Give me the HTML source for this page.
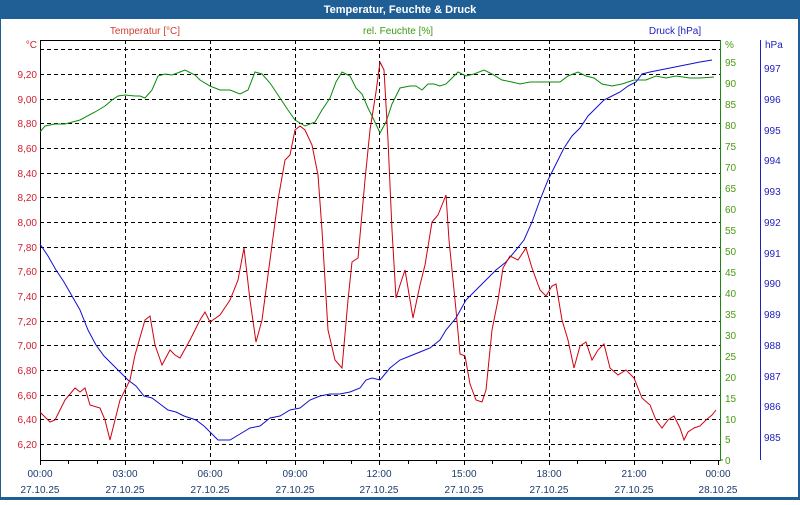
<!DOCTYPE html>
<html><head><meta charset="utf-8"><style>
body{margin:0;width:800px;height:500px;overflow:hidden;background:#fff;font-family:"Liberation Sans",sans-serif}
</style></head><body>
<svg width="800" height="500" xmlns="http://www.w3.org/2000/svg" font-family="Liberation Sans, sans-serif" font-size="10">
<rect x="0" y="0" width="800" height="500" fill="#1f5f96"/>
<rect x="1" y="19" width="797" height="478" fill="#fff"/>
<text x="400" y="13" fill="#fff" font-weight="bold" font-size="11" text-anchor="middle">Temperatur, Feuchte &amp; Druck</text>
<text x="145" y="34" fill="#d04030" text-anchor="middle">Temperatur [°C]</text>
<text x="398" y="34" fill="#3a9a10" text-anchor="middle">rel. Feuchte [%]</text>
<text x="675" y="34" fill="#2020c0" text-anchor="middle">Druck [hPa]</text>
<g stroke="#000" stroke-dasharray="4,3" stroke-width="1">
<line x1="40" x2="720" y1="49.5" y2="49.5"/><line x1="40" x2="720" y1="74.5" y2="74.5"/><line x1="40" x2="720" y1="99.5" y2="99.5"/><line x1="40" x2="720" y1="123.5" y2="123.5"/><line x1="40" x2="720" y1="148.5" y2="148.5"/><line x1="40" x2="720" y1="173.5" y2="173.5"/><line x1="40" x2="720" y1="197.5" y2="197.5"/><line x1="40" x2="720" y1="222.5" y2="222.5"/><line x1="40" x2="720" y1="247.5" y2="247.5"/><line x1="40" x2="720" y1="271.5" y2="271.5"/><line x1="40" x2="720" y1="296.5" y2="296.5"/><line x1="40" x2="720" y1="321.5" y2="321.5"/><line x1="40" x2="720" y1="345.5" y2="345.5"/><line x1="40" x2="720" y1="370.5" y2="370.5"/><line x1="40" x2="720" y1="395.5" y2="395.5"/><line x1="40" x2="720" y1="419.5" y2="419.5"/><line x1="40" x2="720" y1="444.5" y2="444.5"/>
<line y1="40" y2="460" x1="125.5" x2="125.5"/><line y1="40" y2="460" x1="210.5" x2="210.5"/><line y1="40" y2="460" x1="295.5" x2="295.5"/><line y1="40" y2="460" x1="379.5" x2="379.5"/><line y1="40" y2="460" x1="464.5" x2="464.5"/><line y1="40" y2="460" x1="549.5" x2="549.5"/><line y1="40" y2="460" x1="634.5" x2="634.5"/>
</g>
<g stroke="#000" fill="none"><line x1="40.5" y1="40" x2="40.5" y2="461"/><line x1="40" y1="460.5" x2="721" y2="460.5"/><line x1="40" y1="40.5" x2="720" y2="40.5"/></g>
<g stroke="#000"><line x1="40.5" x2="40.5" y1="460" y2="465"/><line x1="68.5" x2="68.5" y1="460" y2="464"/><line x1="97.5" x2="97.5" y1="460" y2="464"/><line x1="125.5" x2="125.5" y1="460" y2="465"/><line x1="153.5" x2="153.5" y1="460" y2="464"/><line x1="182.5" x2="182.5" y1="460" y2="464"/><line x1="210.5" x2="210.5" y1="460" y2="465"/><line x1="238.5" x2="238.5" y1="460" y2="464"/><line x1="266.5" x2="266.5" y1="460" y2="464"/><line x1="295.5" x2="295.5" y1="460" y2="465"/><line x1="323.5" x2="323.5" y1="460" y2="464"/><line x1="351.5" x2="351.5" y1="460" y2="464"/><line x1="379.5" x2="379.5" y1="460" y2="465"/><line x1="408.5" x2="408.5" y1="460" y2="464"/><line x1="436.5" x2="436.5" y1="460" y2="464"/><line x1="464.5" x2="464.5" y1="460" y2="465"/><line x1="492.5" x2="492.5" y1="460" y2="464"/><line x1="521.5" x2="521.5" y1="460" y2="464"/><line x1="549.5" x2="549.5" y1="460" y2="465"/><line x1="577.5" x2="577.5" y1="460" y2="464"/><line x1="605.5" x2="605.5" y1="460" y2="464"/><line x1="634.5" x2="634.5" y1="460" y2="465"/><line x1="662.5" x2="662.5" y1="460" y2="464"/><line x1="690.5" x2="690.5" y1="460" y2="464"/><line x1="718.5" x2="718.5" y1="460" y2="465"/></g>
<g fill="#d02030" text-anchor="end">
<text x="37" y="48">°C</text><text x="37" y="78">9,20</text><text x="37" y="103">9,00</text><text x="37" y="127">8,80</text><text x="37" y="152">8,60</text><text x="37" y="177">8,40</text><text x="37" y="201">8,20</text><text x="37" y="226">8,00</text><text x="37" y="251">7,80</text><text x="37" y="275">7,60</text><text x="37" y="300">7,40</text><text x="37" y="325">7,20</text><text x="37" y="349">7,00</text><text x="37" y="374">6,80</text><text x="37" y="399">6,60</text><text x="37" y="423">6,40</text><text x="37" y="448">6,20</text>
</g>
<line x1="720.5" y1="40" x2="720.5" y2="461" stroke="#1a8a10"/>
<g fill="#4a9a10"><text x="725" y="48">%</text>
<text x="725" y="464">0</text><text x="725" y="443">5</text><text x="725" y="423">10</text><text x="725" y="402">15</text><text x="725" y="381">20</text><text x="725" y="360">25</text><text x="725" y="339">30</text><text x="725" y="318">35</text><text x="725" y="297">40</text><text x="725" y="276">45</text><text x="725" y="255">50</text><text x="725" y="234">55</text><text x="725" y="213">60</text><text x="725" y="192">65</text><text x="725" y="171">70</text><text x="725" y="150">75</text><text x="725" y="129">80</text><text x="725" y="108">85</text><text x="725" y="87">90</text><text x="725" y="66">95</text></g>
<g stroke="#1a8a10"><line x1="720" x2="723" y1="460" y2="460"/></g>
<line x1="760.5" y1="40" x2="760.5" y2="460" stroke="#2020c0"/>
<g fill="#2020c0"><text x="765" y="48">hPa</text>
<text x="764" y="441">985</text><text x="764" y="410">986</text><text x="764" y="380">987</text><text x="764" y="349">988</text><text x="764" y="318">989</text><text x="764" y="287">990</text><text x="764" y="257">991</text><text x="764" y="226">992</text><text x="764" y="195">993</text><text x="764" y="164">994</text><text x="764" y="134">995</text><text x="764" y="103">996</text><text x="764" y="72">997</text></g>
<g fill="#1c3c6c" text-anchor="middle">
<text x="40" y="477">00:00</text><text x="125" y="477">03:00</text><text x="210" y="477">06:00</text><text x="295" y="477">09:00</text><text x="379" y="477">12:00</text><text x="464" y="477">15:00</text><text x="549" y="477">18:00</text><text x="634" y="477">21:00</text><text x="718" y="477">00:00</text>
<text x="40" y="493">27.10.25</text><text x="125" y="493">27.10.25</text><text x="210" y="493">27.10.25</text><text x="295" y="493">27.10.25</text><text x="379" y="493">27.10.25</text><text x="464" y="493">27.10.25</text><text x="549" y="493">27.10.25</text><text x="634" y="493">27.10.25</text><text x="718" y="493">28.10.25</text></g>
<polyline fill="none" stroke="#0a8a0a" points="40,132 45,126 55,124 65,124 80,120 95,112 105,106 112,100 118,96 125,95 135,96 140,96 145,98 152,90 158,76 165,74 172,75 180,72 185,70 195,75 200,80 210,86 220,90 230,90 240,94 248,90 255,72 262,74 270,83 278,95 288,110 295,120 305,126 315,122 322,110 330,98 336,82 342,72 350,76 356,88 362,94 368,108 374,120 380,133 386,122 392,104 400,88 410,86 416,86 422,90 428,84 434,84 440,86 446,84 452,78 458,72 466,76 474,74 484,70 492,74 502,80 512,82 520,84 530,82 540,82 550,82 560,82 568,76 578,72 586,76 594,78 602,84 612,86 622,84 634,80 646,80 656,76 666,78 676,76 690,78 700,78 714,77"/>
<polyline fill="none" stroke="#1010d0" points="40,244 48,256 56,270 64,282 72,296 80,310 88,330 96,345 104,356 112,364 120,372 128,380 136,386 144,396 152,398 160,404 168,410 176,412 184,416 196,420 204,426 212,434 218,440 230,440 240,434 250,428 260,426 270,418 280,416 290,410 300,408 310,400 320,396 330,394 340,394 350,392 360,388 366,380 372,378 380,380 385,374 390,368 400,360 410,356 420,352 430,348 440,340 446,330 456,318 466,300 476,290 488,278 496,270 506,262 516,250 524,240 532,222 540,200 548,180 556,164 564,148 572,136 580,128 588,116 596,108 604,100 612,96 620,92 628,86 636,82 642,74 650,72 660,70 670,68 680,66 690,64 700,62 712,60"/>
<polyline fill="none" stroke="#d00010" points="40,412 50,422 55,420 65,400 75,388 80,392 85,388 90,405 100,408 105,420 110,440 115,420 120,400 130,380 135,355 145,320 150,316 155,345 162,365 170,350 175,355 180,358 190,340 200,320 205,312 210,322 220,315 230,300 238,280 244,248 250,300 256,342 262,320 270,260 278,200 285,160 290,155 295,130 300,126 305,130 312,145 318,175 322,230 328,330 335,360 342,368 348,300 352,262 358,258 365,180 370,130 376,92 380,62 384,70 388,140 392,230 396,298 400,285 405,270 413,318 420,285 425,265 432,222 438,215 442,205 446,195 449,240 452,270 456,310 460,354 465,356 470,384 476,400 482,402 486,390 492,330 498,300 503,268 510,256 518,260 526,248 532,268 540,290 546,296 552,286 556,284 562,320 568,340 574,368 580,346 586,342 592,360 598,350 604,344 610,368 618,375 626,370 634,378 642,398 650,405 656,420 662,428 668,420 674,416 680,428 684,440 688,432 694,428 700,426 706,420 712,415 716,410"/>
</svg>
</body></html>
